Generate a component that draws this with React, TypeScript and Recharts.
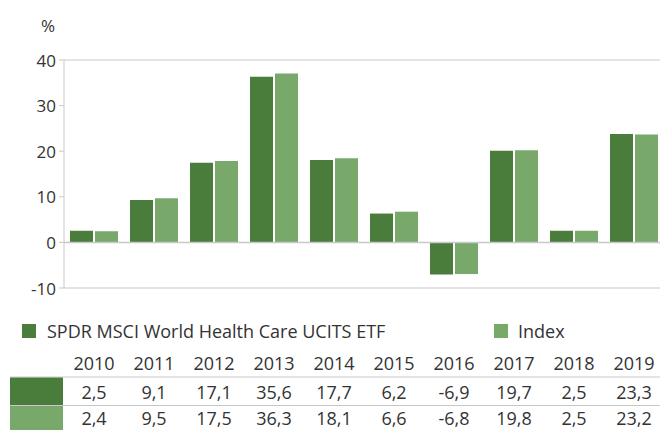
import React from 'react';
import { ComposedChart, Bar, Line, XAxis, YAxis, ReferenceLine, Legend } from 'recharts';

const years = ['2010', '2011', '2012', '2013', '2014', '2015', '2016', '2017', '2018', '2019'];
const etfValues = [2.5, 9.1, 17.1, 35.6, 17.7, 6.2, -6.9, 19.7, 2.5, 23.3];
const indexValues = [2.4, 9.5, 17.5, 36.3, 18.1, 6.6, -6.8, 19.8, 2.5, 23.2];
const etfName = 'SPDR MSCI World Health Care UCITS ETF';
const indexName = 'Index';
const yTicks = [-10, 0, 10, 20, 30, 40];
// the reference draws its bars about 2% taller than its tick scale
const barDomain = [-9.8, 39.2];

const DARK = '#4a7c3b';
const LIGHT = '#79a86b';
const TEXT = '#333333';
const GRID = '#c8c8c8';
const FONT = '"Open Sans", "DejaVu Sans", sans-serif';
const FS = 18;
const AXIS_FS = 17;

const data = years.map((y, i) => ({ year: y, etf: etfValues[i], index: indexValues[i] }));

const fmt = (v: number) => v.toFixed(1).replace('.', ',');

const TableTick = (props: any) => {
  const { x, y, index } = props;
  return (
    <g>
      {index === 0 && (
        <g>
          <line x1={10} x2={670} y1={y + 89} y2={y + 89} stroke={GRID} strokeWidth={1} />
          <line x1={10} x2={670} y1={y + 117.5} y2={y + 117.5} stroke={GRID} strokeWidth={1} />
          <rect x={10} y={y + 89.5} width={53} height={27.5} fill={DARK} />
          <rect x={10} y={y + 118} width={53} height={26} fill={LIGHT} />
        </g>
      )}
      <text x={x} y={y + 75} textAnchor="middle" dominantBaseline="central" fill={TEXT} fontSize={FS} fontFamily={FONT}>
        {years[index]}
      </text>
      <text x={x} y={y + 104} textAnchor="middle" dominantBaseline="central" fill={TEXT} fontSize={FS} fontFamily={FONT}>
        {fmt(etfValues[index])}
      </text>
      <text x={x} y={y + 130} textAnchor="middle" dominantBaseline="central" fill={TEXT} fontSize={FS} fontFamily={FONT}>
        {fmt(indexValues[index])}
      </text>
    </g>
  );
};

const YTick = (props: any) => {
  const { x, y, payload } = props;
  return (
    <text x={x} y={y} textAnchor="end" dominantBaseline="central" fill={TEXT} fontSize={AXIS_FS} fontFamily={FONT}>
      {payload.value}
    </text>
  );
};

const LegendContent = () => (
  <div style={{ position: 'relative', width: 660, height: 24, fontFamily: FONT, fontSize: FS, color: TEXT }}>
    <div style={{ position: 'absolute', left: 22, top: 4, width: 14, height: 14, background: DARK }} />
    <div style={{ position: 'absolute', left: 47, top: 0, lineHeight: '22px', whiteSpace: 'nowrap' }}>{etfName}</div>
    <div style={{ position: 'absolute', left: 494, top: 4, width: 14, height: 14, background: LIGHT }} />
    <div style={{ position: 'absolute', left: 518, top: 0, lineHeight: '22px', whiteSpace: 'nowrap' }}>{indexName}</div>
  </div>
);

const PercentLabel = (props: any) => (
  <text x={55} y={25} textAnchor="end" dominantBaseline="central" fill={TEXT} fontSize={AXIS_FS} fontFamily={FONT}>
    %
  </text>
);

export default function App() {
  return (
    <div style={{ position: 'fixed', left: 0, top: 0, width: 660, height: 430, overflow: 'hidden', background: '#fff' }}>
      <ComposedChart
        width={670}
        height={430}
        data={data}
        margin={{ top: 60, right: 6, bottom: 0, left: 0 }}
        barGap={2}
        barCategoryGap={6}
      >
        <XAxis
          dataKey="year"
          height={142}
          axisLine={false}
          tickLine={false}
          tickSize={0}
          tickMargin={0}
          interval={0}
          tick={<TableTick />}
        />
        <YAxis
          yAxisId="ticks"
          type="number"
          width={64}
          domain={[-10, 40]}
          ticks={yTicks}
          interval={0}
          axisLine={{ stroke: GRID }}
          tickLine={{ stroke: GRID }}
          tickSize={5}
          tickMargin={3}
          tick={<YTick />}
          label={<PercentLabel />}
        />
        <YAxis yAxisId="bars" type="number" width={0} orientation="right" hide domain={barDomain} allowDataOverflow />
        <Line yAxisId="ticks" dataKey="etf" stroke="none" dot={false} activeDot={false} legendType="none" isAnimationActive={false} />
        <ReferenceLine yAxisId="ticks" y={40} stroke={GRID} strokeWidth={1} />
        <ReferenceLine yAxisId="ticks" y={-10} stroke={GRID} strokeWidth={1} />
        <Bar yAxisId="bars" dataKey="etf" name={etfName} fill={DARK} barSize={23} isAnimationActive={false} />
        <Bar yAxisId="bars" dataKey="index" name={indexName} fill={LIGHT} barSize={23} isAnimationActive={false} />
        <ReferenceLine yAxisId="ticks" y={0} stroke={GRID} strokeWidth={1.5} />
        <Legend
          layout="horizontal"
          verticalAlign="middle"
          align="center"
          content={<LegendContent />}
          wrapperStyle={{ position: 'absolute', left: 0, top: 320, width: 660 }}
        />
      </ComposedChart>
    </div>
  );
}
